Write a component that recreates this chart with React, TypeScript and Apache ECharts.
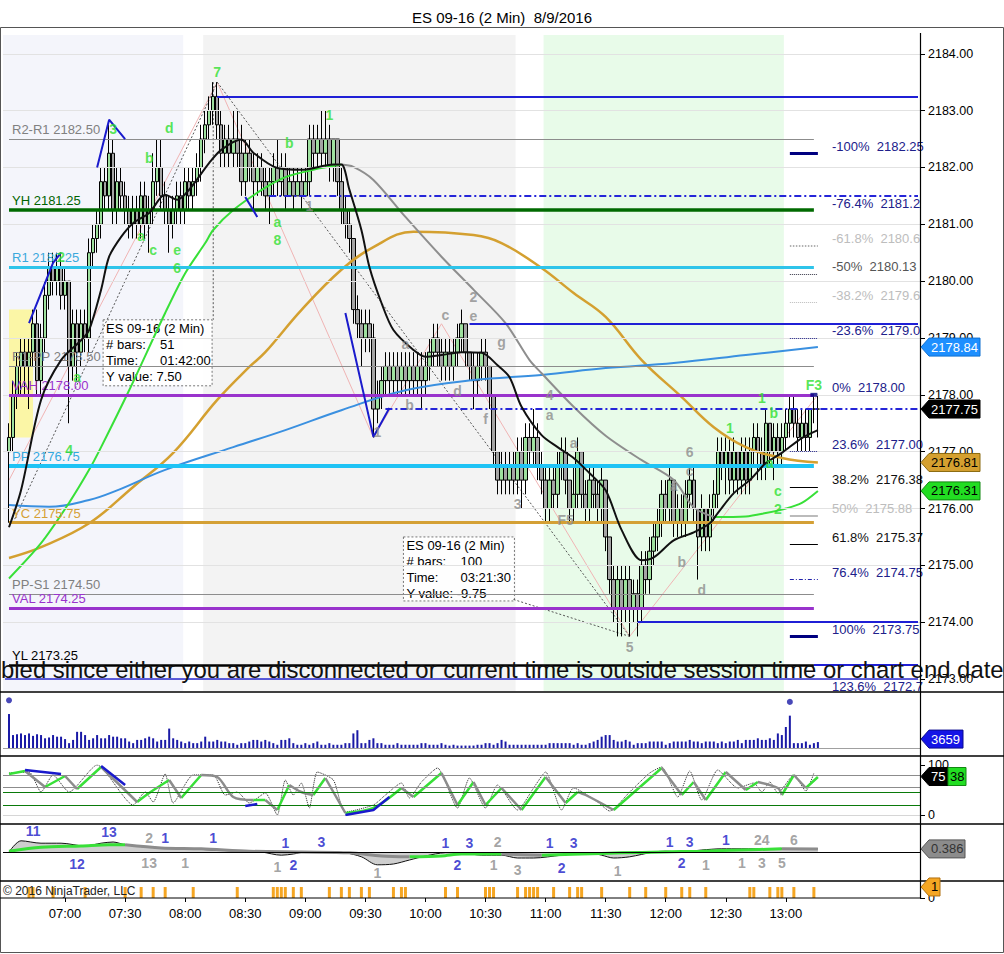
import React, { useEffect, useRef } from 'react';
import * as echarts from 'echarts';

const FONT = "'Liberation Sans', Arial, sans-serif";
const START_MINUTE = 390; // 06:30
const SLOT_COUNT = 229;
const timeLabels = ['07:00','07:30','08:00','08:30','09:00','09:30','10:00','10:30','11:00','11:30','12:00','12:30','13:00'];
const priceTicks = [2173,2174,2175,2176,2177,2178,2179,2180,2181,2182,2183,2184];

// [open, close, low, high] for slots 1..203 (06:32 .. 13:16)
const bars = [
[2177.00,2177.25,2175.75,2177.50],[2177.25,2178.00,2177.00,2178.25],[2178.00,2178.50,2177.75,2178.75],[2178.50,2178.75,2178.00,2179.00],[2178.75,2178.50,2178.00,2179.00],
[2178.50,2178.75,2177.75,2179.00],[2178.75,2179.25,2178.50,2179.50],[2179.25,2178.25,2178.00,2179.50],[2178.25,2179.00,2178.00,2179.25],[2179.00,2179.75,2178.75,2180.00],
[2179.75,2180.25,2179.50,2180.50],[2180.25,2180.00,2179.75,2180.50],[2180.00,2180.25,2179.75,2180.50],[2180.25,2179.75,2179.50,2180.50],[2179.75,2180.00,2179.50,2180.25],
[2180.00,2178.50,2177.50,2180.00],[2178.50,2179.25,2178.25,2179.50],[2179.25,2178.75,2178.25,2179.50],[2178.75,2179.25,2178.50,2179.50],[2179.25,2179.00,2178.75,2179.50],
[2179.00,2180.50,2178.75,2180.75],[2180.50,2180.75,2180.25,2181.00],[2180.75,2181.00,2180.50,2181.25],[2181.00,2181.75,2180.75,2182.00],[2181.75,2181.50,2181.25,2182.00],
[2181.50,2182.25,2181.25,2182.75],[2182.25,2181.25,2181.00,2182.50],[2181.25,2181.75,2181.00,2182.00],[2181.75,2181.50,2181.25,2182.00],[2181.50,2181.25,2181.00,2181.75],
[2181.25,2181.00,2180.75,2181.50],[2181.00,2181.25,2180.75,2181.50],[2181.25,2181.00,2180.75,2181.50],[2181.00,2181.50,2180.75,2181.75],[2181.50,2181.00,2180.75,2181.75],
[2181.00,2181.25,2180.50,2181.50],[2181.25,2181.75,2181.00,2182.25],[2181.75,2182.00,2181.50,2182.50],[2182.00,2181.50,2181.25,2182.50],[2181.50,2181.25,2181.00,2181.75],
[2181.25,2181.00,2180.50,2181.50],[2181.00,2181.25,2180.75,2181.50],[2181.25,2181.50,2181.00,2181.75],[2181.50,2181.25,2181.00,2181.75],[2181.25,2181.75,2181.00,2182.00],
[2181.75,2181.50,2181.25,2182.00],[2181.50,2181.75,2181.25,2182.00],[2181.75,2182.00,2181.50,2182.25],[2182.00,2182.50,2181.75,2182.75],[2182.50,2182.75,2182.25,2183.00],
[2182.75,2183.00,2182.50,2183.25],[2183.00,2183.25,2182.75,2183.50],[2183.25,2182.75,2182.50,2183.50],[2182.75,2182.25,2182.00,2183.00],[2182.25,2182.50,2182.00,2182.75],
[2182.50,2182.25,2182.00,2182.75],[2182.25,2182.50,2182.00,2183.00],[2182.50,2182.25,2182.00,2183.00],[2182.25,2181.75,2181.50,2182.75],[2181.75,2182.25,2181.50,2182.50],
[2182.25,2182.00,2181.75,2182.50],[2182.00,2181.75,2181.25,2182.25],[2181.75,2182.00,2181.50,2182.25],[2182.00,2181.75,2181.50,2182.25],[2181.75,2181.50,2181.25,2182.00],
[2181.50,2181.75,2181.00,2182.00],[2181.75,2182.00,2181.50,2182.25],[2182.00,2181.75,2181.50,2182.50],[2181.75,2182.00,2181.50,2182.25],[2182.00,2181.50,2181.25,2182.25],
[2181.50,2181.75,2181.50,2182.00],[2181.75,2181.50,2181.25,2182.00],[2181.50,2181.75,2181.50,2182.00],[2181.75,2181.50,2181.25,2182.00],[2181.50,2181.75,2181.50,2182.00],
[2181.75,2182.50,2181.50,2182.75],[2182.50,2182.25,2182.00,2182.75],[2182.25,2182.50,2182.00,2182.75],[2182.50,2182.25,2182.00,2183.00],[2182.25,2182.50,2182.00,2183.00],
[2182.50,2182.00,2181.75,2182.75],[2182.00,2182.50,2181.75,2182.50],[2182.50,2181.75,2181.50,2182.50],[2181.75,2181.25,2181.00,2182.00],[2181.25,2181.00,2180.75,2181.50],
[2181.00,2180.75,2180.50,2181.25],[2180.75,2179.50,2179.25,2180.75],[2179.50,2179.25,2179.00,2179.75],[2179.25,2179.00,2178.50,2179.50],[2179.00,2179.25,2178.75,2179.50],
[2179.25,2179.00,2178.75,2179.50],[2179.00,2177.75,2177.25,2179.25],[2177.75,2178.00,2177.50,2178.25],[2178.00,2178.25,2177.75,2178.50],[2178.25,2178.50,2178.00,2178.75],
[2178.50,2178.25,2178.00,2178.75],[2178.25,2178.50,2178.00,2178.75],[2178.50,2178.25,2178.00,2178.75],[2178.25,2178.50,2178.00,2178.75],[2178.50,2178.25,2178.00,2178.75],
[2178.25,2178.50,2178.00,2178.75],[2178.50,2178.25,2178.00,2178.75],[2178.25,2178.50,2178.00,2178.75],[2178.50,2178.25,2177.75,2178.75],[2178.25,2178.50,2178.00,2178.75],
[2178.50,2178.75,2178.25,2179.00],[2178.75,2179.00,2178.50,2179.25],[2179.00,2178.75,2178.50,2179.25],[2178.75,2178.50,2178.25,2179.00],[2178.50,2178.75,2178.25,2179.00],
[2178.75,2178.50,2178.25,2179.00],[2178.50,2178.75,2178.25,2179.00],[2178.75,2179.00,2178.50,2179.25],[2179.00,2179.25,2178.75,2179.50],[2179.25,2178.75,2178.50,2179.25],
[2178.75,2178.50,2178.25,2178.75],[2178.50,2178.25,2177.75,2178.75],[2178.25,2178.50,2178.00,2178.75],[2178.50,2178.75,2178.25,2179.00],[2178.75,2178.50,2178.25,2179.00],
[2178.50,2178.00,2177.75,2178.50],[2178.00,2177.00,2176.75,2178.00],[2177.00,2176.50,2176.25,2177.00],[2176.50,2176.75,2176.25,2177.00],[2176.75,2176.50,2176.25,2177.00],
[2176.50,2176.75,2176.25,2177.00],[2176.75,2176.50,2176.25,2177.00],[2176.50,2177.00,2176.25,2177.25],[2177.00,2176.50,2176.00,2177.25],[2176.50,2177.25,2176.25,2177.50],
[2177.25,2177.00,2176.75,2177.50],[2177.00,2177.25,2176.75,2177.75],[2177.25,2176.75,2176.50,2177.50],[2176.75,2176.50,2176.25,2177.00],[2176.50,2176.00,2175.75,2176.75],
[2176.00,2176.50,2175.75,2176.75],[2176.50,2176.25,2176.00,2176.75],[2176.25,2176.75,2176.00,2177.00],[2176.75,2177.00,2176.50,2177.25],[2177.00,2176.50,2176.25,2177.25],
[2176.50,2176.00,2175.75,2176.50],[2176.00,2176.25,2175.75,2176.75],[2176.25,2177.00,2176.00,2177.25],[2177.00,2176.25,2176.00,2177.00],[2176.25,2176.00,2175.75,2176.50],
[2176.00,2176.50,2175.75,2176.75],[2176.50,2176.25,2176.00,2176.75],[2176.25,2176.00,2175.75,2176.50],[2176.00,2176.50,2175.75,2176.75],[2176.50,2175.50,2175.25,2176.50],
[2175.50,2174.75,2174.50,2175.50],[2174.75,2174.25,2174.00,2175.00],[2174.25,2174.75,2173.75,2175.00],[2174.75,2174.25,2173.75,2175.00],[2174.25,2174.75,2174.00,2175.00],
[2174.75,2174.25,2173.75,2175.00],[2174.25,2174.50,2174.00,2174.75],[2174.50,2174.25,2173.75,2174.75],[2174.25,2175.00,2174.00,2175.25],[2175.00,2174.75,2174.50,2175.25],
[2174.75,2175.25,2174.50,2175.50],[2175.25,2175.50,2175.00,2175.75],[2175.50,2175.75,2175.25,2176.00],[2175.75,2176.25,2175.50,2176.50],[2176.25,2176.00,2175.75,2176.50],
[2176.00,2176.50,2175.75,2176.75],[2176.50,2175.75,2175.50,2176.50],[2175.75,2176.00,2175.50,2176.25],[2176.00,2175.75,2175.50,2176.25],[2175.75,2176.25,2175.50,2176.50],
[2176.25,2176.50,2176.00,2176.75],[2176.50,2176.00,2175.75,2176.75],[2176.00,2175.50,2174.75,2176.00],[2175.50,2176.00,2175.25,2176.25],[2176.00,2175.50,2175.25,2176.00],
[2175.50,2176.00,2175.25,2176.25],[2176.00,2176.25,2175.75,2176.50],[2176.25,2177.00,2176.00,2177.25],[2177.00,2176.75,2176.50,2177.25],[2176.75,2177.00,2176.25,2177.25],
[2177.00,2176.50,2176.25,2177.25],[2176.50,2177.00,2176.25,2177.25],[2177.00,2176.50,2176.25,2177.00],[2176.50,2177.00,2176.25,2177.25],[2177.00,2176.50,2176.25,2177.25],
[2176.50,2177.00,2176.25,2177.25],[2177.00,2177.25,2176.75,2177.50],[2177.25,2177.00,2176.50,2177.50],[2177.00,2176.75,2176.50,2177.25],[2176.75,2177.50,2176.50,2177.75],
[2177.50,2177.00,2176.75,2177.50],[2177.00,2177.25,2176.50,2177.50],[2177.25,2177.00,2176.75,2177.50],[2177.00,2177.25,2176.75,2177.50],[2177.25,2177.50,2177.00,2177.75],
[2177.50,2177.75,2177.25,2178.00],[2177.75,2177.50,2177.25,2178.00],[2177.50,2177.25,2177.00,2177.75],[2177.25,2177.50,2177.00,2177.75],[2177.50,2177.25,2177.00,2177.75],
[2177.25,2177.75,2177.00,2177.75],[2177.75,2177.75,2177.50,2178.00],[2177.75,2177.75,2177.25,2178.00]
];

const volumes = [
21000,8000,8500,9000,8000,9000,7500,8500,8000,6000,6500,8000,7000,7000,5500,
3000,5000,10000,10000,8000,5000,6000,8000,6000,6000,8000,7000,7000,6000,6000,
4000,3000,5000,5000,6000,7000,6000,4000,5000,5000,12000,6000,5000,4000,3000,
4000,3000,3000,4000,7000,4000,4000,5000,4000,4000,3000,3000,2000,3000,3000,
4000,5000,5000,4000,5000,4000,3000,2000,5000,5000,6000,3000,2000,2000,3000,
2000,3000,4000,2000,2000,3000,2000,2000,2000,3000,3000,9000,11000,3000,3000,
5000,6000,3000,3000,2000,2000,2000,3000,2000,2000,2000,2000,2000,3000,3000,
2000,2000,2000,3000,2000,1500,2000,1500,1500,1500,1500,1500,2000,2000,3000,
3000,2000,3000,5000,4000,2000,2000,2000,2000,2000,2000,2000,2000,2000,2000,
3000,3000,3000,3000,3000,3000,2000,3000,2000,2000,3000,4000,5000,7000,8000,
8000,5000,4000,4000,5000,4000,2000,3000,3000,3000,4000,4000,4000,4000,2000,
3000,4000,4000,4000,4000,5000,4000,4000,3000,4000,4000,4000,3000,4000,3000,
4000,4000,5000,3000,5000,5000,5000,6000,5000,5000,
6000,5000,9000,8000,13000,20000,3000,3000,3000,4000,
2000,3000,3659
];
const volumeDots = [[1, 29500], [196, 28500]];

// moving averages: [slot, price]
const fastAvg = [[1,2175.67],[4,2176.32],[9,2177.91],[14,2178.61],[19,2178.96],[21,2179.14],[24,2179.85],[26,2180.43],[29,2180.78],[32,2181.02],[36,2181.20],[40,2181.52],[43,2181.43],[46,2181.61],[51,2182.08],[54,2182.31],[59,2182.49],[62,2182.26],[68,2181.99],[74,2181.96],[82,2182.05],[84,2182.05],[86,2181.61],[89,2180.90],[91,2180.25],[94,2179.62],[97,2179.14],[102,2178.79],[105,2178.67],[109,2178.70],[114,2178.75],[119,2178.74],[123,2178.52],[126,2178.31],[129,2177.79],[134,2177.29],[138,2177.08],[142,2176.89],[146,2176.62],[150,2176.32],[154,2175.62],[159,2175.09],[162,2175.14],[167,2175.44],[172,2175.58],[176,2175.74],[178,2175.92],[182,2176.27],[186,2176.50],[190,2176.80],[194,2176.98],[199,2177.24],[203,2177.38]];
const slopeAvg = [[1,2174.77],[9,2175.39],[16,2176.10],[21,2176.68],[24,2177.08],[31,2178.08],[40,2179.44],[45,2180.14],[50,2180.67],[52,2180.90],[57,2181.25],[64,2181.60],[70,2181.83],[77,2181.96],[84,2182.05],[87,2182.01],[92,2181.78],[100,2181.13],[109,2180.43],[117,2179.85],[125,2179.26],[131,2178.61],[134,2178.38],[142,2177.79],[150,2177.28],[159,2176.85],[167,2176.50],[172,2176.02],[177,2175.85],[185,2175.86],[190,2175.92],[195,2176.00],[199,2176.10],[203,2176.31]];
const goldAvg = [[1,2175.13],[9,2175.32],[21,2175.74],[32,2176.38],[42,2176.98],[53,2177.91],[61,2178.49],[65,2178.75],[74,2179.49],[84,2180.20],[92,2180.60],[102,2180.87],[117,2180.81],[124,2180.67],[134,2180.23],[142,2179.79],[150,2179.37],[159,2178.61],[169,2177.96],[177,2177.43],[185,2177.08],[194,2176.89],[203,2176.81]];
const blueAvg = [[1,2176.06],[11,2176.03],[21,2176.15],[28,2176.32],[40,2176.68],[57,2177.08],[70,2177.38],[84,2177.73],[100,2178.08],[117,2178.26],[134,2178.35],[150,2178.47],[167,2178.56],[185,2178.70],[203,2178.84]];

// horizontal levels
const levelNames = ['R2-R1 2182.50','YH 2181.25','R1 2180.25','R1-PP 2178.50','VAH 2178.00','PP 2176.75','YC 2175.75','PP-S1 2174.50','VAL 2174.25','YL 2173.25'];
const levelValues = [2182.5, 2181.25, 2180.25, 2178.5, 2178.0, 2176.75, 2175.75, 2174.5, 2174.25, 2173.25];
const levelStyles = [
  { line: '#8c8c8c', text: '#808080', w: 1 },
  { line: '#006a00', text: '#006400', w: 3.5 },
  { line: '#2ec4ea', text: '#3aa8dc', w: 3 },
  { line: '#8c8c8c', text: '#808080', w: 1 },
  { line: '#9933cc', text: '#9933cc', w: 3 },
  { line: '#1ec3f5', text: '#33a8e0', w: 4 },
  { line: '#d4a035', text: '#d4a035', w: 3 },
  { line: '#8c8c8c', text: '#808080', w: 1 },
  { line: '#9933cc', text: '#9933cc', w: 3 },
  { line: '#000000', text: '#000000', w: 2.5 },
];
const blueLevelStarts = [53, 116, 158, 202];
const blueLevelValues = [2183.25, 2179.25, 2174.0, 2173.25];
const dashLevelStarts = [66, 95];
const dashLevelValues = [2181.5, 2177.75];
const bottomLevel = 2173.0;

// fibonacci
const fibTexts = ['-100%  2182.25','-76.4%  2181.2','-61.8%  2180.6','-50%  2180.13','-38.2%  2179.6','-23.6%  2179.0','0%  2178.00','23.6%  2177.00','38.2%  2176.38','50%  2175.88','61.8%  2175.37','76.4%  2174.75','100%  2173.75','123.6%  2172.7'];
const fibPrices = [2182.25, 2181.25, 2180.63, 2180.13, 2179.62, 2179.0, 2178.0, 2177.0, 2176.38, 2175.88, 2175.37, 2174.75, 2173.75, 2172.75];
const fibTextColors = ['#20208a','#20208a','#bdbdbd','#555555','#bdbdbd','#20208a','#20208a','#20208a','#111111','#bdbdbd','#111111','#20208a','#20208a','#20208a'];
const fibSegStyles: any[] = [
  { color: '#000080', width: 3, type: 'solid' }, null,
  { color: '#999999', width: 1.5, type: 'dotted' }, { color: '#333344', width: 1, type: 'dotted' },
  { color: '#bbbbbb', width: 1, type: 'dotted' }, { color: '#22228a', width: 1, type: 'dotted' }, null,
  { color: '#22228a', width: 1, type: 'dotted' }, { color: '#000000', width: 1, type: 'solid' },
  { color: '#bbbbbb', width: 2, type: 'solid' }, { color: '#000000', width: 1, type: 'solid' },
  { color: '#2222aa', width: 1, type: [4, 2, 1, 2] }, { color: '#000080', width: 3, type: 'solid' }, null,
];

// annotations: [text, slot, price]
const greenMarks: [string, number, number][] = [
  ['7',53,2183.68],['3',27,2182.68],['d',41,2182.70],['b',36,2182.17],['a',34,2180.80],['c',37,2180.55],['e',43,2180.55],['6',43,2180.23],
  ['2',14,2180.43],['a',18,2178.31],['4',16,2177.03],['1',81,2182.93],['b',71,2182.43],['a',68,2181.04],['8',68,2180.73],
  ['1',181,2177.41],['1',189,2177.95],['b',192,2177.68],['a',191,2176.80],['c',193,2176.30],['2',193,2176.0],['F3',202,2178.17],
];
const grayMarks: [string, number, number][] = [
  ['1',76,2181.32],['a',100,2178.90],['c',110,2179.40],['2',117,2179.72],['e',117,2179.39],['g',124,2178.93],['b',101,2177.82],
  ['d',113,2178.07],['f',120,2177.57],['1',93,2177.35],['4',136,2178.0],['a',136,2177.64],['a',142,2177.15],['3',128,2176.08],
  ['F5',140,2175.80],['5',156,2173.56],['6',171,2176.99],['c',171,2176.66],['a',167,2176.40],['b',169,2175.06],['d',174,2174.56],
];
const bluePaths = [
  [[6,2179.26],[12,2180.32],[14,2180.5]],
  [[23,2182.0],[26,2182.84],[30,2182.5]],
  [[60,2181.48],[63,2181.13]],
  [[85,2179.44],[92,2177.26],[96,2177.77]],
];
const measurePaths = [
  [[2,2175.75],[53,2183.5]],
  [[52,2183.5],[52,2179.32]],
  [[53,2183.5],[156,2173.75]],
  [[127,2174.4],[156,2173.75]],
];
const pinkPath = [[1,2176.5],[53,2183.5],[92,2177.25],[109,2179.25],[156,2173.75],[203,2178.0]];
const measureBoxes = [
  { slot: 25, price: 2179.32, w: 109, h: 66, lines: ['ES 09-16 (2 Min)', ['# bars:', '51'], ['Time:', '01:42:00'], 'Y value: 7.50'] },
  { slot: 100, price: 2175.5, w: 111, h: 64, lines: ['ES 09-16 (2 Min)', ['# bars:', '100'], ['Time:', '03:21:30'], 'Y value: -9.75'] },
];
const shadedBands = [[0, 44], [50, 127], [135, 194]];
const shadedColors = ['#f4f5fb', '#f3f3f3', '#e8fbe9'];
const yellowBox = [[1, 2179.5], [7, 2177.25]];

// stochastic
const stochD = [[1,82],[5,88],[10,56],[15,78],[18,52],[24,96],[33,26],[36,44],[41,70],[44,34],[49,80],[53,76],[57,36],[62,30],[65,30],[68,10],[71,60],[74,46],[77,40],[80,74],[85,4],[92,14],[99,54],[102,36],[109,84],[113,20],[117,66],[120,20],[124,54],[129,10],[135,76],[140,24],[143,46],[145,40],[152,10],[164,94],[169,40],[172,66],[175,30],[180,86],[185,50],[188,66],[193,54],[194,40],[197,80],[200,54],[203,76]];
const stochK = [[1,84],[6,86],[9,46],[12,80],[16,46],[23,100],[32,20],[35,46],[37,26],[40,82],[42,24],[47,80],[52,80],[55,40],[58,46],[61,24],[65,44],[68,0],[70,70],[72,40],[74,64],[76,14],[78,86],[82,70],[85,6],[92,20],[95,40],[99,64],[101,34],[104,66],[108,94],[113,14],[116,74],[120,14],[123,60],[128,10],[132,54],[135,86],[139,10],[142,54],[148,26],[151,8],[156,46],[161,84],[164,96],[168,36],[171,88],[174,30],[178,90],[183,54],[187,64],[189,46],[191,66],[193,44],[197,80],[200,48],[202,84]];
const stochBlue = [[[5,90],[14,82]], [[24,98],[30,60]], [[60,18],[63,22]], [[85,0],[92,10],[96,36]]];
const stochLevels = [80, 55, 45, 20, 0];
const stochLevelColors = ['#8c8c8c', '#8c8c8c', '#0a7a0a', '#0a7a0a', '#d6d6d6'];

// macd-like panel
const macdLine = [[1,0],[4,1.4],[9,1.1],[14,1.1],[20,0.75],[24,1.1],[27,1.25],[30,0.9],[36,0.6],[41,0.5],[46,0.4],[52,0.25],[59,0.1],[64,0],[69,-0.4],[72,-0.25],[75,0],[81,0],[85,-0.1],[89,-0.6],[93,-1.6],[97,-1.5],[101,-1.0],[105,-0.5],[110,-0.1],[114,-0.1],[119,-0.4],[124,-0.4],[128,-0.75],[132,-0.75],[139,-0.4],[146,-0.1],[149,-0.4],[152,-0.75],[156,-0.6],[162,0],[165,0.1],[169,0],[174,0.25],[179,0.4],[184,0.4],[191,0.4],[199,0.4],[203,0.4]];
const macdSignal = [[1,0.1],[9,0.6],[19,0.75],[26,0.9],[30,0.9],[39,0.5],[49,0.4],[61,0.1],[74,0],[86,-0.1],[94,-0.5],[101,-0.6],[109,-0.5],[114,-0.25],[124,-0.25],[134,-0.4],[144,-0.25],[154,-0.1],[164,0],[174,0.1],[184,0.25],[194,0.4],[203,0.386]];
const macdBlueMarks: [string, number, number][] = [
  ['11',7,2.6],['12',18,-1.5],['13',26,2.5],['1',40,1.75],['1',52,1.75],['1',70,1.1],['2',72,-1.6],['3',79,1.25],
  ['1',110,1.1],['2',113,-1.6],['3',116,1.1],['1',136,1.1],['3',142,1.1],['2',139,-2.0],['1',166,1.25],['3',171,1.25],['2',169,-1.4],['1',180,1.5],
];
const macdGrayMarks: [string, number, number][] = [
  ['2',36,1.75],['1',35,-1.4],['3',37,-1.4],['1',45,-1.4],['1',68,-1.9],['1',93,-2.6],['2',123,1.25],['1',122,-1.6],['3',128,-2.25],
  ['1',153,-2.4],['1',175,-1.6],['1',184,-1.4],['3',189,-1.4],['5',194,-1.4],['24',189,1.5],['6',197,1.5],
];

// tick-count panel
const tickSlots = [6,7,12,20,30,34,37,40,47,58,67,68,69,70,72,74,81,84,86,89,91,97,99,100,110,113,120,121,122,128,130,131,132,133,137,141,143,144,149,156,160,165,169,171,175,186,187,191,193,194,197,202];

// right-side value tags
const mainTagValues = [2178.84, 2177.75, 2176.81, 2176.31];
const mainTagColors = [['#1e8fff', '#ffffff', '#1070d0'], ['#000000', '#ffffff', '#000000'], ['#d4a030', '#000000', '#8a6a10'], ['#22dd22', '#000000', '#118811']];

const categories = Array.from({ length: SLOT_COUNT }, (_, i) => {
  const m = START_MINUTE + 2 * i;
  return String(Math.floor(m / 60)).padStart(2, '0') + ':' + String(m % 60).padStart(2, '0');
});

function joinPaths(paths: number[][][]) {
  const out: any[] = [];
  paths.forEach((p, i) => {
    if (i) out.push([p[0][0], '-']);
    p.forEach((q) => out.push(q));
  });
  return out;
}
function splitBySlope(pts: number[][], wantUp: boolean) {
  const out: any[] = [];
  let open = false;
  for (let i = 0; i < pts.length - 1; i++) {
    const up = pts[i + 1][1] >= pts[i][1];
    if (up === wantUp) {
      if (!open) { out.push(pts[i]); open = true; }
      out.push(pts[i + 1]);
    } else if (open) {
      out.push([pts[i][0], '-']);
      open = false;
    }
  }
  return out;
}
const isLabelSlot = (_i: number, v: string) => timeLabels.indexOf(v) >= 0;
const LEVEL_END = 202;
const LAST_SLOT = SLOT_COUNT - 1;

function textMarks(marks: [string, number, number][], color: string, xi: number, yi: number, z = 6) {
  return {
    type: 'scatter', xAxisIndex: xi, yAxisIndex: yi, z, silent: true,
    symbolSize: 1, itemStyle: { color: 'rgba(0,0,0,0)' },
    data: marks.map(([t, s, p]) => ({ name: t, value: [s, p] })),
    label: { show: true, position: 'inside', formatter: '{b}', color, fontSize: 14, fontWeight: 'bold', fontFamily: FONT },
  };
}

function buildOption() {
  const grids = [
    { left: 3, top: 35, width: 917, height: 656 },
    { left: 3, top: 693, width: 917, height: 55 },
    { left: 3, top: 765, width: 917, height: 50 },
    { left: 3, top: 826, width: 917, height: 52 },
    { left: 3, top: 884, width: 917, height: 14 },
  ];
  const xAxes = grids.map((_, g) => ({
    type: 'category', gridIndex: g, data: categories, boundaryGap: true,
    axisLine: { show: false },
    axisTick: g === 4 ? { show: true, alignWithLabel: true, interval: isLabelSlot, length: 4, lineStyle: { color: '#000' } } : { show: false },
    axisLabel: g === 4 ? { show: true, interval: isLabelSlot, margin: 9, fontSize: 13, color: '#000', fontFamily: FONT } : { show: false },
    splitLine: { show: false },
  }));
  const yAxes = [
    {
      type: 'value', gridIndex: 0, position: 'right', min: 2172.79, max: 2184.33,
      axisLine: { show: false }, splitLine: { show: false },
      axisTick: { show: true, length: 5, customValues: priceTicks, lineStyle: { color: '#000' } },
      axisLabel: { show: true, customValues: priceTicks, margin: 8, fontSize: 12.5, color: '#000', fontFamily: FONT, formatter: (v: number) => v.toFixed(2) },
    },
    { type: 'value', gridIndex: 1, min: 0, max: 34000, show: false, splitLine: { show: false } },
    {
      type: 'value', gridIndex: 2, position: 'right', min: 0, max: 100,
      axisLine: { show: false }, splitLine: { show: false },
      axisTick: { show: true, length: 5, customValues: [0, 100], lineStyle: { color: '#000' } },
      axisLabel: { show: true, customValues: [0, 100], margin: 8, fontSize: 12.5, color: '#000', fontFamily: FONT },
    },
    { type: 'value', gridIndex: 3, min: -3.25, max: 3.25, show: false, splitLine: { show: false } },
    {
      type: 'value', gridIndex: 4, position: 'right', min: 0, max: 1.27,
      axisLine: { show: false }, splitLine: { show: false },
      axisTick: { show: true, length: 5, customValues: [0], lineStyle: { color: '#000' } },
      axisLabel: { show: true, customValues: [0], margin: 8, fontSize: 12.5, color: '#000', fontFamily: FONT },
    },
  ];

  const gridLines = priceTicks.map((v) => ({ yAxis: v, lineStyle: { color: '#e2e2e2', width: 1, type: 'solid' } }));
  const levelLines = levelValues.map((v, i) => [
    {
      coord: [1, v],
      lineStyle: { color: levelStyles[i].line, width: levelStyles[i].w, type: 'solid' },
      label: { show: true, position: 'insideStartTop', formatter: levelNames[i], color: levelStyles[i].text, fontSize: 13, fontFamily: FONT, distance: [3, 3] },
    },
    { coord: [LEVEL_END, v] },
  ]);
  const blueLines = blueLevelValues.map((v, i) => [
    { coord: [blueLevelStarts[i], v], lineStyle: { color: '#1f1fd6', width: 2, type: 'solid' } },
    { coord: [LAST_SLOT, v] },
  ]);
  const dashLines = dashLevelValues.map((v, i) => [
    { coord: [dashLevelStarts[i], v], lineStyle: { color: '#2525d8', width: 2, type: [7, 3, 2, 3] } },
    { coord: [LAST_SLOT, v] },
  ]);
  const bottomLine = [[{ coord: [0, bottomLevel], lineStyle: { color: '#2a2ad0', width: 1.5, type: 'solid' } }, { coord: [LAST_SLOT, bottomLevel] }]];
  const fibSegs: any[] = [];
  fibPrices.forEach((p, i) => {
    if (fibSegStyles[i]) fibSegs.push([{ coord: [196, p], lineStyle: fibSegStyles[i] }, { coord: [203, p] }]);
  });

  const series: any[] = [
    {
      type: 'line', name: 'levels', xAxisIndex: 0, yAxisIndex: 0, z: 1, data: [], silent: true,
      markLine: {
        silent: true, symbol: ['none', 'none'], label: { show: false },
        data: [...gridLines, ...levelLines, ...blueLines, ...dashLines, ...bottomLine, ...fibSegs],
      },
      markArea: {
        silent: true, itemStyle: { color: '#fbf6a6' },
        data: [[{ coord: yellowBox[0] }, { coord: yellowBox[1] }]],
      },
    },
    {
      type: 'line', name: 'zigzag', xAxisIndex: 0, yAxisIndex: 0, z: 2, silent: true, symbol: 'none',
      data: pinkPath, lineStyle: { color: '#f0b4b4', width: 1 },
    },
    {
      type: 'candlestick', name: 'ES', xAxisIndex: 0, yAxisIndex: 0, z: 3, barWidth: 4,
      encode: { x: 0, y: [1, 2, 3, 4] },
      data: bars.map((b, i) => [i + 1, b[0], b[1], b[2], b[3]]),
      itemStyle: { color: '#9ee09e', color0: '#a4a4a4', borderColor: '#000', borderColor0: '#000', borderWidth: 1 },
    },
    {
      type: 'line', name: 'measure', xAxisIndex: 0, yAxisIndex: 0, z: 3, silent: true, symbol: 'none',
      data: joinPaths(measurePaths), lineStyle: { color: '#555', width: 1, type: [2, 2] },
    },
    { type: 'line', name: 'gold', xAxisIndex: 0, yAxisIndex: 0, z: 4, silent: true, symbol: 'none', smooth: 0.4, data: goldAvg, lineStyle: { color: '#d4a030', width: 2.5 } },
    { type: 'line', name: 'blue', xAxisIndex: 0, yAxisIndex: 0, z: 4, silent: true, symbol: 'none', smooth: 0.4, data: blueAvg, lineStyle: { color: '#3a90e0', width: 2 } },
    { type: 'line', name: 'slopeUp', xAxisIndex: 0, yAxisIndex: 0, z: 4, silent: true, symbol: 'none', smooth: 0.3, data: splitBySlope(slopeAvg, true), lineStyle: { color: '#38e038', width: 2 } },
    { type: 'line', name: 'slopeDown', xAxisIndex: 0, yAxisIndex: 0, z: 4, silent: true, symbol: 'none', smooth: 0.3, data: splitBySlope(slopeAvg, false), lineStyle: { color: '#8e8e8e', width: 2 } },
    { type: 'line', name: 'fast', xAxisIndex: 0, yAxisIndex: 0, z: 5, silent: true, symbol: 'none', smooth: 0.3, data: fastAvg, lineStyle: { color: '#111', width: 2 } },
    { type: 'line', name: 'trend', xAxisIndex: 0, yAxisIndex: 0, z: 5, silent: true, symbol: 'none', data: joinPaths(bluePaths), lineStyle: { color: '#1a1acc', width: 2 } },
    textMarks(greenMarks, '#2ee02e', 0, 0),
    textMarks(grayMarks, '#8c8c8c', 0, 0),
    {
      type: 'scatter', xAxisIndex: 0, yAxisIndex: 0, z: 6, silent: true, symbol: 'rect', symbolSize: [7, 4],
      itemStyle: { color: '#000080' }, data: [[202, 2178.0]],
    },
    // volume
    {
      type: 'bar', name: 'volume', xAxisIndex: 1, yAxisIndex: 1, z: 3, barWidth: 2, silent: true,
      data: volumes.map((v, i) => [i + 1, v]), itemStyle: { color: '#1a1aa6' },
      markLine: { silent: true, symbol: ['none', 'none'], label: { show: false }, data: [{ yAxis: 0, lineStyle: { color: '#a0a0a0', width: 1, type: 'solid' } }] },
    },
    { type: 'scatter', xAxisIndex: 1, yAxisIndex: 1, z: 4, silent: true, symbolSize: 6, itemStyle: { color: '#1a1aa6' }, data: volumeDots },
    // stochastic
    {
      type: 'line', name: 'K', xAxisIndex: 2, yAxisIndex: 2, z: 3, silent: true, symbol: 'none', smooth: 0.2,
      data: stochK, lineStyle: { color: '#222', width: 1, type: 'dotted' },
      markLine: {
        silent: true, symbol: ['none', 'none'], label: { show: false },
        data: stochLevels.map((v, i) => ({ yAxis: v, lineStyle: { color: stochLevelColors[i], width: 1, type: 'solid' } })),
      },
    },
    { type: 'line', xAxisIndex: 2, yAxisIndex: 2, z: 4, silent: true, symbol: 'none', smooth: 0.3, data: splitBySlope(stochD, true), lineStyle: { color: '#38e038', width: 2.5 } },
    { type: 'line', xAxisIndex: 2, yAxisIndex: 2, z: 4, silent: true, symbol: 'none', smooth: 0.3, data: splitBySlope(stochD, false), lineStyle: { color: '#8c8c8c', width: 2.5 } },
    { type: 'line', xAxisIndex: 2, yAxisIndex: 2, z: 5, silent: true, symbol: 'none', data: joinPaths(stochBlue), lineStyle: { color: '#1a1acc', width: 2.5 } },
    // macd
    {
      type: 'line', name: 'macd', xAxisIndex: 3, yAxisIndex: 3, z: 3, silent: true, symbol: 'none', smooth: 0.3,
      data: macdLine, lineStyle: { color: '#111', width: 1 }, areaStyle: { color: '#a0a0a0', opacity: 0.5, origin: 0 },
      markLine: { silent: true, symbol: ['none', 'none'], label: { show: false }, data: [{ yAxis: 0, lineStyle: { color: '#000', width: 1, type: 'solid' } }] },
    },
    { type: 'line', xAxisIndex: 3, yAxisIndex: 3, z: 4, silent: true, symbol: 'none', smooth: 0.3, data: splitBySlope(macdSignal, true), lineStyle: { color: '#38e038', width: 3 } },
    { type: 'line', xAxisIndex: 3, yAxisIndex: 3, z: 4, silent: true, symbol: 'none', smooth: 0.3, data: splitBySlope(macdSignal, false), lineStyle: { color: '#8c8c8c', width: 3 } },
    textMarks(macdBlueMarks, '#1c1cc8', 3, 3),
    textMarks(macdGrayMarks, '#8c8c8c', 3, 3),
    // tick counter
    {
      type: 'bar', xAxisIndex: 4, yAxisIndex: 4, z: 3, barWidth: 3, silent: true,
      data: tickSlots.map((s) => [s, 1]), itemStyle: { color: '#f5a623' },
    },
  ];

  return {
    animation: false,
    backgroundColor: '#ffffff',
    textStyle: { fontFamily: FONT },
    title: { text: 'ES 09-16 (2 Min)  8/9/2016', left: 'center', top: 5, textStyle: { fontSize: 15, fontWeight: 'normal', color: '#000', fontFamily: FONT } },
    grid: grids,
    xAxis: xAxes,
    yAxis: yAxes,
    series,
  };
}

function tagShape(y: number, x1: number, text: string, bg: string, fg: string, border: string) {
  return [
    { type: 'polygon', z: 60, shape: { points: [[921, y], [929, y - 9], [x1, y - 9], [x1, y + 9], [929, y + 9]] }, style: { fill: bg, stroke: border, lineWidth: 1 } },
    { type: 'text', z: 61, x: 931, y, style: { text, fill: fg, font: `13px ${FONT}`, verticalAlign: 'middle', textVerticalAlign: 'middle' } },
  ];
}

function buildGraphics(chart: any) {
  const px = (slot: number) => chart.convertToPixel({ xAxisIndex: 0 }, categories[slot]);
  const py = (v: number, k = 0) => chart.convertToPixel({ yAxisIndex: k }, v);
  const half = (px(1) - px(0)) / 2;
  const top = py(2184.33);
  const bottom = py(2172.79);
  const g: any[] = [];

  shadedBands.forEach(([a, b], i) => {
    g.push({ type: 'rect', z: 0, silent: true, shape: { x: px(a) - half, y: top, width: px(b) - px(a) + 2 * half, height: bottom - top }, style: { fill: shadedColors[i] } });
  });

  measureBoxes.forEach((bx) => {
    const x = px(bx.slot) - half;
    const y = py(bx.price);
    g.push({ type: 'rect', z: 1, silent: true, shape: { x, y, width: bx.w, height: bx.h }, style: { fill: 'rgba(255,255,255,0.85)', stroke: '#777', lineWidth: 1, lineDash: [2, 2] } });
    bx.lines.forEach((ln: any, i: number) => {
      const ty = y + 9 + i * 16;
      const mk = (tx: number, t: string) => ({ type: 'text', z: 1, silent: true, x: tx, y: ty, style: { text: t, fill: '#000', font: `13px ${FONT}`, verticalAlign: 'middle', textVerticalAlign: 'middle' } });
      if (typeof ln === 'string') g.push(mk(x + 3, ln));
      else { g.push(mk(x + 3, ln[0])); g.push(mk(x + 57, ln[1])); }
    });
  });

  fibTexts.forEach((t, i) => {
    g.push({ type: 'text', z: 45, silent: true, x: 832, y: py(fibPrices[i]) - 7, style: { text: t, fill: fibTextColors[i], font: `13px ${FONT}`, verticalAlign: 'middle', textVerticalAlign: 'middle' } });
  });

  g.push({ type: 'text', z: 45, silent: true, x: 1, y: 669, style: { text: 'bled since either you are disconnected or current time is outside session time or chart end date', fill: '#111', font: `23.9px ${FONT}`, verticalAlign: 'middle', textVerticalAlign: 'middle' } });
  g.push({ type: 'text', z: 45, silent: true, x: 3, y: 891, style: { text: '\u00a9 2016 NinjaTrader, LLC', fill: '#222', font: `12px ${FONT}`, verticalAlign: 'middle', textVerticalAlign: 'middle' } });

  // frame
  const line = (x1: number, y1: number, x2: number, y2: number, w = 1) => ({ type: 'line', z: 50, silent: true, shape: { x1, y1, x2, y2 }, style: { stroke: '#000', lineWidth: w } });
  g.push({ type: 'rect', z: 50, silent: true, shape: { x: 0.5, y: 27.5, width: 1003, height: 925 }, style: { fill: 'none', stroke: '#555', lineWidth: 1 } });
  [692, 756, 824, 881].forEach((y) => g.push(line(0, y, 1004, y, 1.5)));
  g.push(line(0, 898, 920.5, 898, 1));
  g.push(line(920.5, 33, 920.5, 898, 1.2));

  mainTagValues.forEach((v, i) => {
    const c = mainTagColors[i];
    g.push(...tagShape(py(v), 980, v.toFixed(2), c[0], c[1], c[2]));
  });
  g.push(...tagShape(py(volumes[volumes.length - 1], 1) - 3, 963, String(volumes[volumes.length - 1]), '#1414e6', '#ffffff', '#0a0a90'));
  const ky = py(75, 2) - 1;
  g.push(...tagShape(ky, 948, '75', '#000000', '#ffffff', '#000000'));
  g.push({ type: 'rect', z: 60, silent: true, shape: { x: 948, y: ky - 9, width: 18, height: 18 }, style: { fill: '#22dd22', stroke: '#118811' } });
  g.push({ type: 'text', z: 61, silent: true, x: 950, y: ky, style: { text: '38', fill: '#000', font: `13px ${FONT}`, verticalAlign: 'middle', textVerticalAlign: 'middle' } });
  const lastSignal = macdSignal[macdSignal.length - 1][1];
  g.push(...tagShape(py(lastSignal, 3), 965, lastSignal.toFixed(3), '#8c8c8c', '#333333', '#555555'));
  g.push(...tagShape(py(1, 4), 940, '1', '#f5a623', '#000000', '#b07010'));
  return g;
}

export default function App() {
  const ref = useRef<HTMLDivElement>(null);
  useEffect(() => {
    const el = ref.current as HTMLDivElement;
    const chart = echarts.init(el, null, { renderer: 'svg', width: 1004, height: 954 });
    chart.setOption(buildOption() as any);
    chart.setOption({ graphic: buildGraphics(chart) } as any);
    return () => chart.dispose();
  }, []);
  return <div ref={ref} style={{ position: 'fixed', left: 0, top: 0, width: 1004, height: 954, background: '#fff' }} />;
}
